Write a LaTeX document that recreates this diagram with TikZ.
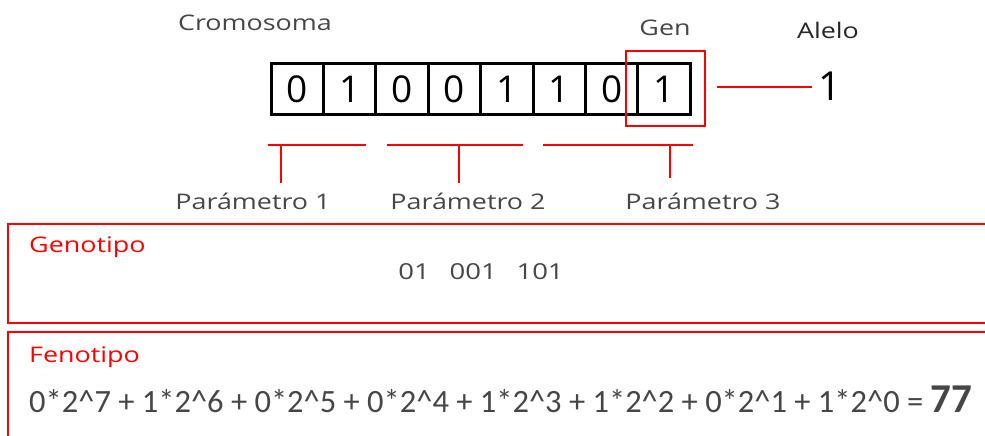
\documentclass[tikz,border=0pt]{standalone}
\usepackage{fontspec}
\setmainfont{Open Sans}
\newfontfamily\widefont[FakeStretch=1.25]{Open Sans}
\newfontfamily\formfont{Carlito}
\definecolor{txtgray}{RGB}{70,70,70}
\tikzset{
  cell/.style={draw=black,line width=3pt,minimum width=52.4pt,minimum height=51pt,inner sep=0pt,font=\fontsize{37}{37}\selectfont,text=black},
  lbl/.style={text=txtgray,font=\widefont\fontsize{21.5}{21.5}\selectfont,inner sep=0pt},
  redline/.style={draw=red,line width=1.4pt},
  redtitle/.style={text=red,font=\widefont\fontsize{21.5}{21.5}\selectfont,inner sep=0pt,anchor=west}
}
\begin{document}
\begin{tikzpicture}[x=1pt,y=-1pt]
\useasboundingbox (0,0) rectangle (985,436);
% chromosome cells
\foreach \v [count=\i from 0] in {0,1,0,0,1,1,0,1} {
  \node[cell] (c\i) at ({271+52.4*\i+26.2},89) {\v};
}
\node[lbl] (crom) at (255,23) {Cromosoma};
\node[lbl] (gen) at (665,28) {Gen};
\node[lbl,text=black!85] (alelo) at (828,30) {Alelo};
\node[draw=red,line width=1.2pt,minimum width=79pt,minimum height=75pt,inner sep=0pt] (genbox) at (665.5,88.5) {};
\coordinate (al1) at (717,87);
\node[inner sep=0pt,font=\fontsize{40}{40}\selectfont,text=black,anchor=west] (one) at (818,86) {1};
\draw[redline] (al1) -- (812,87);
% parameter brackets
\coordinate (p1a) at (268,145); \coordinate (p1b) at (366,145); \coordinate (p1s) at (281,145);
\coordinate (p2a) at (387,145); \coordinate (p2b) at (523,145); \coordinate (p2s) at (459,145);
\coordinate (p3a) at (543,145); \coordinate (p3b) at (693,145); \coordinate (p3s) at (670,145);
\node[lbl] (par1) at (253,201) {Parámetro 1};
\node[lbl] (par2) at (468,201) {Parámetro 2};
\node[lbl] (par3) at (703,201) {Parámetro 3};
\draw[redline] (p1a) -- (p1b);
\draw[redline] (p1s) -- (p1s |- 0,183);
\draw[redline] (p2a) -- (p2b);
\draw[redline] (p2s) -- (p2s |- 0,183);
\draw[redline] (p3a) -- (p3b);
\draw[redline] (p3s) -- (p3s |- 0,178);
% Genotipo box
\draw[redline,line width=1.8pt] (990,224) -- (8,224) -- (8,323) -- (990,323);
\node[redtitle] (geno) at (29,247) {Genotipo};
\node[lbl,font=\widefont\fontsize{22}{22}\selectfont] (genval) at (481,272) {01\hspace{0.9em}001\hspace{0.9em}101};
% Fenotipo box
\draw[redline,line width=1.8pt] (990,332) -- (8,332) -- (8,440);
\node[redtitle] (feno) at (29,357) {Fenotipo};
\node[inner sep=0pt,anchor=west,text=txtgray,font=\formfont\fontsize{32.5}{32.5}\selectfont] (form) at (29,399) {0*2\^{}7 + 1*2\^{}6 + 0*2\^{}5 + 0*2\^{}4 + 1*2\^{}3 + 1*2\^{}2 + 0*2\^{}1 + 1*2\^{}0 = \textbf{\fontsize{41}{41}\selectfont 77}};
\end{tikzpicture}
\end{document}
